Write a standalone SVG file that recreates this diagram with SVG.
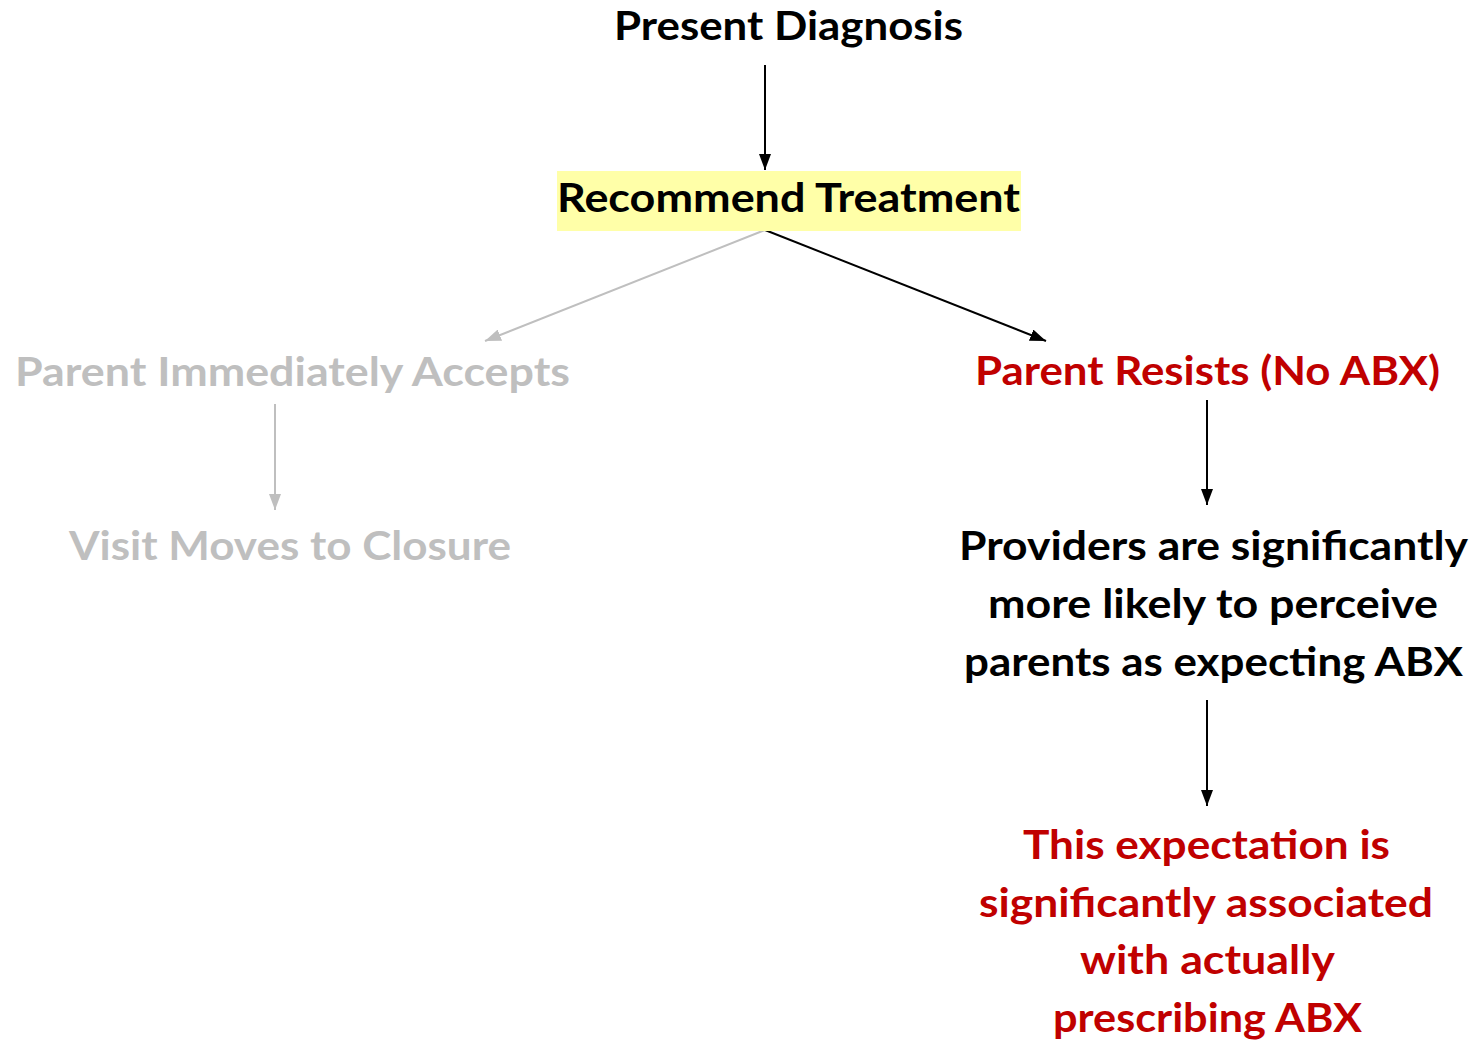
<svg xmlns="http://www.w3.org/2000/svg" width="1477" height="1040" viewBox="0 0 1477 1040">
  <style>
    text { font-family: Lato, "Open Sans", "Liberation Sans", sans-serif; font-weight: bold; font-size: 40px; text-anchor: middle; }
    .dark { fill: #000000; }
    .muted { fill: #bfbfbf; }
    .alert { fill: #c00000; }
    .edge { fill: none; stroke-width: 2; }
    .edge-dark { stroke: #000000; marker-end: url(#head-dark); }
    .edge-muted { stroke: #bfbfbf; marker-end: url(#head-muted); }
  </style>
  <defs>
    <marker id="head-dark" markerUnits="userSpaceOnUse" markerWidth="16" markerHeight="12" refX="16" refY="6" orient="auto">
      <path d="M0,0 L16,6 L0,12 z" fill="#000000"/>
    </marker>
    <marker id="head-muted" markerUnits="userSpaceOnUse" markerWidth="16" markerHeight="12" refX="16" refY="6" orient="auto">
      <path d="M0,0 L16,6 L0,12 z" fill="#bfbfbf"/>
    </marker>
  </defs>
  <rect width="1477" height="1040" fill="#ffffff"/>

  <!-- connectors -->
  <g id="connectors">
    <line class="edge edge-dark" x1="765" y1="65" x2="765" y2="170"/>
    <line class="edge edge-muted" x1="765" y1="230" x2="485" y2="341"/>
    <line class="edge edge-dark" x1="765" y1="230" x2="1046" y2="341"/>
    <line class="edge edge-muted" x1="275" y1="404" x2="275" y2="510"/>
    <line class="edge edge-dark" x1="1207" y1="400" x2="1207" y2="505"/>
    <line class="edge edge-dark" x1="1207" y1="700" x2="1207" y2="806"/>
  </g>

  <!-- nodes -->
  <g id="present-diagnosis">
    <text class="dark" x="788.5" y="40" textLength="349" lengthAdjust="spacingAndGlyphs">Present Diagnosis</text>
  </g>
  <g id="recommend-treatment">
    <rect x="557" y="171" width="464" height="60" fill="#ffffa8"/>
    <text class="dark" x="788.5" y="212" textLength="463" lengthAdjust="spacingAndGlyphs">Recommend Treatment</text>
  </g>
  <g id="parent-accepts">
    <text class="muted" x="292.5" y="386" textLength="555" lengthAdjust="spacingAndGlyphs">Parent Immediately Accepts</text>
  </g>
  <g id="visit-closure">
    <text class="muted" x="290" y="560" textLength="442" lengthAdjust="spacingAndGlyphs">Visit Moves to Closure</text>
  </g>
  <g id="parent-resists">
    <text class="alert" x="1207.5" y="385" textLength="465" lengthAdjust="spacingAndGlyphs">Parent Resists (No ABX)</text>
  </g>
  <g id="providers-perceive">
    <text class="dark" x="1213.5" y="560" textLength="509" lengthAdjust="spacingAndGlyphs">Providers are significantly</text>
    <text class="dark" x="1213" y="618" textLength="450" lengthAdjust="spacingAndGlyphs">more likely to perceive</text>
    <text class="dark" x="1213.5" y="676" textLength="499" lengthAdjust="spacingAndGlyphs">parents as expecting ABX</text>
  </g>
  <g id="expectation-prescribing">
    <text class="alert" x="1206.5" y="859" textLength="367" lengthAdjust="spacingAndGlyphs">This expectation is</text>
    <text class="alert" x="1206" y="917" textLength="454" lengthAdjust="spacingAndGlyphs">significantly associated</text>
    <text class="alert" x="1207.5" y="974" textLength="255" lengthAdjust="spacingAndGlyphs">with actually</text>
    <text class="alert" x="1207.5" y="1032" textLength="309" lengthAdjust="spacingAndGlyphs">prescribing ABX</text>
  </g>
</svg>
